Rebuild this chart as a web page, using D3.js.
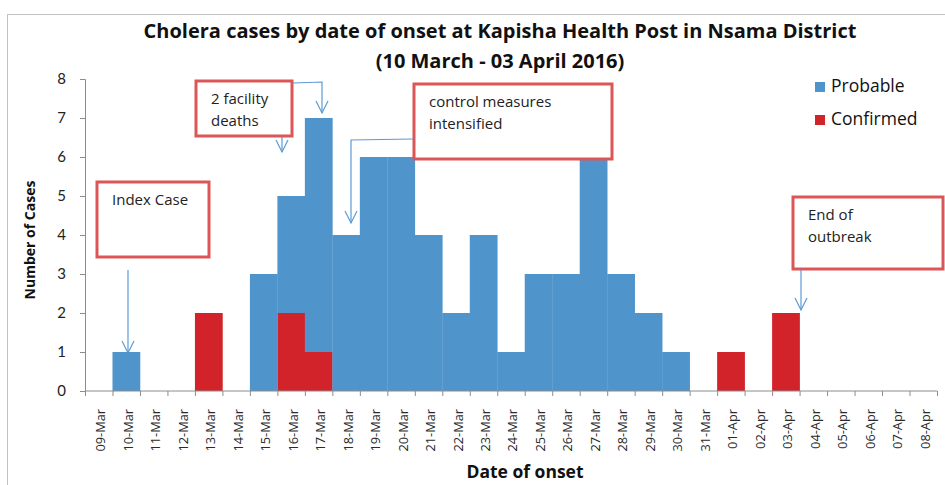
<!DOCTYPE html>
<html>
<head>
<meta charset="utf-8">
<script src="https://cdn.jsdelivr.net/npm/d3@7"></script>
<style>
  body { margin: 0; background: #fff; }
  .chart { width: 945px; height: 485px; }
  text { font-family: "Open Sans", "Noto Sans", sans-serif; }
</style>
</head>
<body>
<div class="chart"></div>
<script>
// epi curve, cases by date of onset
const dates = ['09-Mar', '10-Mar', '11-Mar', '12-Mar', '13-Mar', '14-Mar', '15-Mar', '16-Mar',
  '17-Mar', '18-Mar', '19-Mar', '20-Mar', '21-Mar', '22-Mar', '23-Mar', '24-Mar', '25-Mar',
  '26-Mar', '27-Mar', '28-Mar', '29-Mar', '30-Mar', '31-Mar', '01-Apr', '02-Apr', '03-Apr',
  '04-Apr', '05-Apr', '06-Apr', '07-Apr', '08-Apr'];

const confirmed = [0, 0, 0, 0, 2, 0, 0, 2, 1, 0, 0, 0, 0, 0, 0, 0, 0, 0, 0, 0, 0, 0, 0, 1, 0, 2, 0, 0, 0, 0, 0];
const probable  = [0, 1, 0, 0, 0, 0, 3, 3, 6, 4, 6, 6, 4, 2, 4, 1, 3, 3, 6, 3, 2, 1, 0, 0, 0, 0, 0, 0, 0, 0, 0];

const yTicks = [0, 1, 2, 3, 4, 5, 6, 7, 8];

const blue = '#4F94CB';
const red = '#D2232A';
const boxRed = '#DB5656';
const arrowBlue = '#5B9BD5';

const margin = { top: 79, right: 8, bottom: 94, left: 85 };
const width = 945 - margin.left - margin.right;
const height = 485 - margin.top - margin.bottom;

const table = dates.map((d, i) => ({ date: d, Confirmed: confirmed[i], Probable: probable[i] }));
const stacked = d3.stack().keys(['Confirmed', 'Probable'])(table);

const x = d3.scaleBand()
  .domain(dates)
  .range([0, width])
  .paddingInner(0)
  .paddingOuter(0);

const y = d3.scaleLinear()
  .domain([0, 8])
  .range([height, 0]);

const root = d3.select('.chart')
  .append('svg')
  .attr('width', 945)
  .attr('height', 485);

//outer frame of the chart area
root.append('rect')
  .attr('x', 7.5).attr('y', 14.5)
  .attr('width', 960).attr('height', 500)
  .attr('fill', 'none')
  .attr('stroke', '#c2c2c2');

//title
root.append('text')
  .attr('x', 500).attr('y', 38)
  .attr('text-anchor', 'middle')
  .style('font-size', '20px').style('font-weight', 'bold')
  .attr('fill', '#111')
  .text('Cholera cases by date of onset at Kapisha Health Post in Nsama District');

root.append('text')
  .attr('x', 500).attr('y', 68)
  .attr('text-anchor', 'middle')
  .style('font-size', '20px').style('font-weight', 'bold')
  .attr('fill', '#111')
  .text('(10 March - 03 April 2016)');

const svg = root.append('g')
  .attr('transform', `translate(${margin.left},${margin.top})`);

//bars (stacked, no gaps)
svg.selectAll('g.series')
  .data(stacked)
  .enter()
  .append('g')
  .attr('class', 'series')
  .attr('fill', d => d.key === 'Confirmed' ? red : blue)
  .selectAll('rect')
  .data(d => d)
  .enter()
  .append('rect')
  .attr('x', d => x(d.data.date))
  .attr('width', x.bandwidth() + 0.3)
  .attr('y', d => y(d[1]))
  .attr('height', d => y(d[0]) - y(d[1]));

//y axis
const yAxis = d3.axisLeft(y)
  .tickValues(yTicks)
  .tickSize(5)
  .tickPadding(14)
  .tickFormat(d3.format('d'));

const gy = svg.append('g').call(yAxis);
gy.select('.domain').attr('stroke', '#8c8c8c');
gy.selectAll('.tick line').attr('stroke', '#8c8c8c');
gy.selectAll('.tick text')
  .style('font-size', '15px')
  .style('font-family', 'Lato, sans-serif')
  .attr('fill', '#222');

//x axis, ticks on the category boundaries
const gx = svg.append('g')
  .attr('transform', `translate(0,${height})`);

gx.append('line')
  .attr('x1', 0).attr('x2', width)
  .attr('stroke', '#8c8c8c');

gx.selectAll('line.tk')
  .data(dates.concat(['end']))
  .enter()
  .append('line')
  .attr('class', 'tk')
  .attr('x1', (d, i) => i * x.step() + 0.5)
  .attr('x2', (d, i) => i * x.step() + 0.5)
  .attr('y1', 0).attr('y2', 5)
  .attr('stroke', '#8c8c8c');

gx.selectAll('text.lbl')
  .data(dates)
  .enter()
  .append('text')
  .attr('class', 'lbl')
  .attr('transform', d => `translate(${x(d) + x.bandwidth() / 2 + 2},18) rotate(-90)`)
  .attr('text-anchor', 'end')
  .attr('dy', '0.35em')
  .style('font-size', '12.8px')
  .attr('fill', '#2a2a2a')
  .text(d => d);

//axis titles
svg.append('text')
  .attr('x', 440).attr('y', height + 87)
  .attr('text-anchor', 'middle')
  .style('font-size', '17.5px').style('font-weight', 'bold')
  .attr('fill', '#111')
  .text('Date of onset');

svg.append('text')
  .attr('transform', 'rotate(-90)')
  .attr('x', -(height / 2) - 5)
  .attr('y', -50)
  .attr('text-anchor', 'middle')
  .style('font-size', '14px').style('font-weight', 'bold')
  .attr('fill', '#111')
  .text('Number of Cases');

//legend
const legend = root.append('g').attr('transform', 'translate(815,82)');
[['Probable', blue], ['Confirmed', red]].forEach((d, i) => {
  legend.append('rect')
    .attr('x', 0).attr('y', i * 33)
    .attr('width', 10).attr('height', 10)
    .attr('fill', d[1]);
  legend.append('text')
    .attr('x', 16).attr('y', i * 33 + 10)
    .style('font-size', '17.5px')
    .attr('fill', '#111')
    .text(d[0]);
});

//annotation boxes
const notes = [
  { lines: ['Index Case'], x: 97, y: 182, w: 112, h: 75 },
  { lines: ['2 facility', 'deaths'], x: 196, y: 81, w: 96, h: 55 },
  { lines: ['control measures', 'intensified'], x: 414, y: 84, w: 198, h: 75 },
  { lines: ['End of', 'outbreak'], x: 793, y: 197, w: 150, h: 72 }
];

const ann = root.append('g');
notes.forEach(n => {
  ann.append('rect')
    .attr('x', n.x).attr('y', n.y)
    .attr('width', n.w).attr('height', n.h)
    .attr('fill', '#fff')
    .attr('stroke', boxRed)
    .attr('stroke-width', 3);
  n.lines.forEach((t, i) => {
    ann.append('text')
      .attr('x', n.x + 15).attr('y', n.y + 23 + i * 22)
      .style('font-size', '15px')
      .attr('fill', '#222')
      .text(t);
  });
});

//arrows: path points then arrow tip at the last one
const arrows = [
  [[128, 270], [128, 353]],
  [[293, 83], [322, 82], [322, 113]],
  [[282, 137], [282, 152]],
  [[413, 139], [351, 140], [351, 223]],
  [[801, 270], [801, 310]]
];

arrows.forEach(pts => {
  ann.append('path')
    .attr('d', d3.line()(pts))
    .attr('fill', 'none')
    .attr('stroke', arrowBlue)
    .attr('stroke-width', 1.2);
  const tip = pts[pts.length - 1];
  ann.append('path')
    .attr('d', d3.line()([[tip[0] - 6, tip[1] - 12], tip, [tip[0] + 6, tip[1] - 12]]))
    .attr('fill', 'none')
    .attr('stroke', arrowBlue)
    .attr('stroke-width', 1.2);
});
</script>
</body>
</html>
